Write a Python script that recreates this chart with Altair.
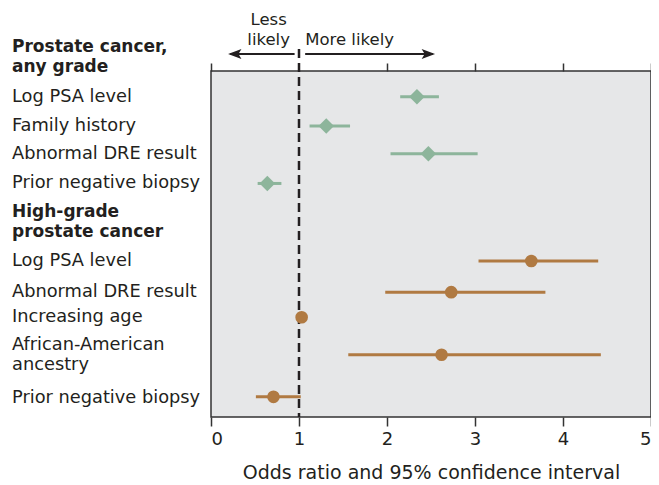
import altair as alt
import pandas as pd

# ---- data ----
labels = ["Log PSA level", "Family history", "Abnormal DRE result", "Prior negative biopsy",
          "Log PSA level", "Abnormal DRE result", "Increasing age",
          "African-American\nancestry", "Prior negative biopsy"]
groups = ["any", "any", "any", "any", "high", "high", "high", "high", "high"]
rows = [0.89, 1.91, 2.87, 3.90, 6.59, 7.67, 8.54, 9.84, 11.30]
label_rows = [0.89, 1.91, 2.87, 3.90, 6.59, 7.67, 8.54, 9.50, 11.35]
odds = [2.34, 1.31, 2.47, 0.64, 3.64, 2.73, 1.03, 2.62, 0.71]
ci_lo = [2.15, 1.12, 2.04, 0.53, 3.04, 1.98, 1.00, 1.56, 0.51]
ci_hi = [2.59, 1.58, 3.03, 0.80, 4.40, 3.80, 1.06, 4.43, 1.02]

headers = ["Prostate cancer,\nany grade", "High-grade\nprostate cancer"]
header_rows = [-0.83, 4.89]

x_ticks = [0, 1, 2, 3, 4, 5]
top_ticks = [0, 2, 3, 4, 5]

ann_labels = ["Less", "likely", "More likely"]
ann_x = [0.655, 0.655, 1.575]
ann_y = [-51, -31, -31]

FONT = "DejaVu Sans"
GREEN = "#8db59b"
BROWN = "#b07a42"
INK = "#231f20"

df = pd.DataFrame({"label": labels, "group": groups, "row": rows, "lrow": label_rows,
                   "or": odds, "lo": ci_lo, "hi": ci_hi})
hdr = pd.DataFrame({"label": headers, "row": header_rows})

xscale = alt.Scale(domain=[0, 5], nice=False, zero=False)
yscale = alt.Scale(domain=[0, 12], reverse=True, nice=False, zero=False)
color = alt.Color("group:N", scale=alt.Scale(domain=["any", "high"], range=[GREEN, BROWN]), legend=None)

bottom_axis = alt.Axis(values=x_ticks, tickSize=9, tickColor="#333", tickWidth=1.5,
                       domain=False, grid=False, labelFont=FONT, labelFontSize=18,
                       labelColor=INK, labelPadding=4,
                       title="Odds ratio and 95% confidence interval",
                       titleFont=FONT, titleFontSize=19, titleFontWeight="normal",
                       titleColor=INK, titlePadding=15)
top_axis = alt.Axis(orient="top", values=top_ticks, tickSize=8, tickColor="#333", tickWidth=1.5,
                    domain=False, grid=False, labels=False, title=None)

base = alt.Chart(df)

ci = base.mark_rule(strokeWidth=3).encode(
    x=alt.X("lo:Q", scale=xscale, axis=bottom_axis),
    x2="hi:Q",
    y=alt.Y("row:Q", scale=yscale, axis=None),
    color=color,
)

pts_any = base.transform_filter(alt.datum.group == "any").mark_point(
    filled=True, opacity=1, shape="diamond", size=240, color=GREEN
).encode(
    x=alt.X("or:Q", scale=xscale, axis=top_axis),
    y=alt.Y("row:Q", scale=yscale, axis=None),
)
pts_high = base.transform_filter(alt.datum.group == "high").mark_point(
    filled=True, opacity=1, shape="circle", size=160, color=BROWN
).encode(
    x=alt.X("or:Q", scale=xscale, axis=None),
    y=alt.Y("row:Q", scale=yscale, axis=None),
)

ref = alt.Chart(pd.DataFrame({"v": [1]})).mark_rule(
    color=INK, strokeWidth=2.5, strokeDash=[9, 5]
).encode(
    x=alt.X("v:Q", scale=xscale, axis=None),
    y=alt.value(-22), y2=alt.value(346),
)

row_text = base.mark_text(align="left", baseline="middle", font=FONT, fontSize=17.8,
                          color=INK, lineHeight=20, lineBreak="\n").encode(
    x=alt.value(-199),
    y=alt.Y("lrow:Q", scale=yscale, axis=None),
    text="label:N",
)

hdr_text = alt.Chart(hdr).mark_text(align="left", baseline="middle", font=FONT, fontSize=17,
                                    fontWeight="bold", color=INK, lineHeight=20,
                                    lineBreak="\n").encode(
    x=alt.value(-199),
    y=alt.Y("row:Q", scale=yscale, axis=None),
    text="label:N",
)

# direction annotation
arrow_lines = pd.DataFrame({"a": [0.95, 1.07], "b": [0.22, 2.52]})
arrows = alt.Chart(arrow_lines).mark_rule(color=INK, strokeWidth=2).encode(
    x=alt.X("a:Q", scale=xscale, axis=None), x2="b:Q", y=alt.value(-17)
)
head_l = alt.Chart(pd.DataFrame({"p": [0.27]})).mark_point(
    filled=True, opacity=1, color=INK, size=180,
    shape="M-1,0 L1,-0.75 L0.55,0 L1,0.75 Z"
).encode(x=alt.X("p:Q", scale=xscale, axis=None), y=alt.value(-17))
head_r = alt.Chart(pd.DataFrame({"p": [2.47]})).mark_point(
    filled=True, opacity=1, color=INK, size=180,
    shape="M1,0 L-1,-0.75 L-0.55,0 L-1,0.75 Z"
).encode(x=alt.X("p:Q", scale=xscale, axis=None), y=alt.value(-17))

ann = pd.DataFrame({"t": ann_labels, "x": ann_x, "y": ann_y})
ann_text = alt.Chart(ann).mark_text(align="center", baseline="middle", font=FONT, fontSize=16.5,
                                    color=INK).encode(
    x=alt.X("x:Q", scale=xscale, axis=None),
    y=alt.Y("y:Q", scale=alt.Scale(domain=[0, 346], range=[0, 346]), axis=None),
    text="t:N",
)

chart = alt.layer(ref, ci, pts_any, pts_high, row_text, hdr_text, arrows, head_l, head_r,
                  ann_text).resolve_axis(
    x="independent"
).resolve_scale(y="independent").properties(
    width=440, height=346,
    autosize=alt.AutoSizeParams(type="none"),
    padding={"left": 203, "top": 63, "right": 0, "bottom": 70},
).configure_view(fill="#e6e7e8", stroke="#333", strokeWidth=1.5)

chart.save("out.html", embed_options={"renderer": "svg", "actions": False})
